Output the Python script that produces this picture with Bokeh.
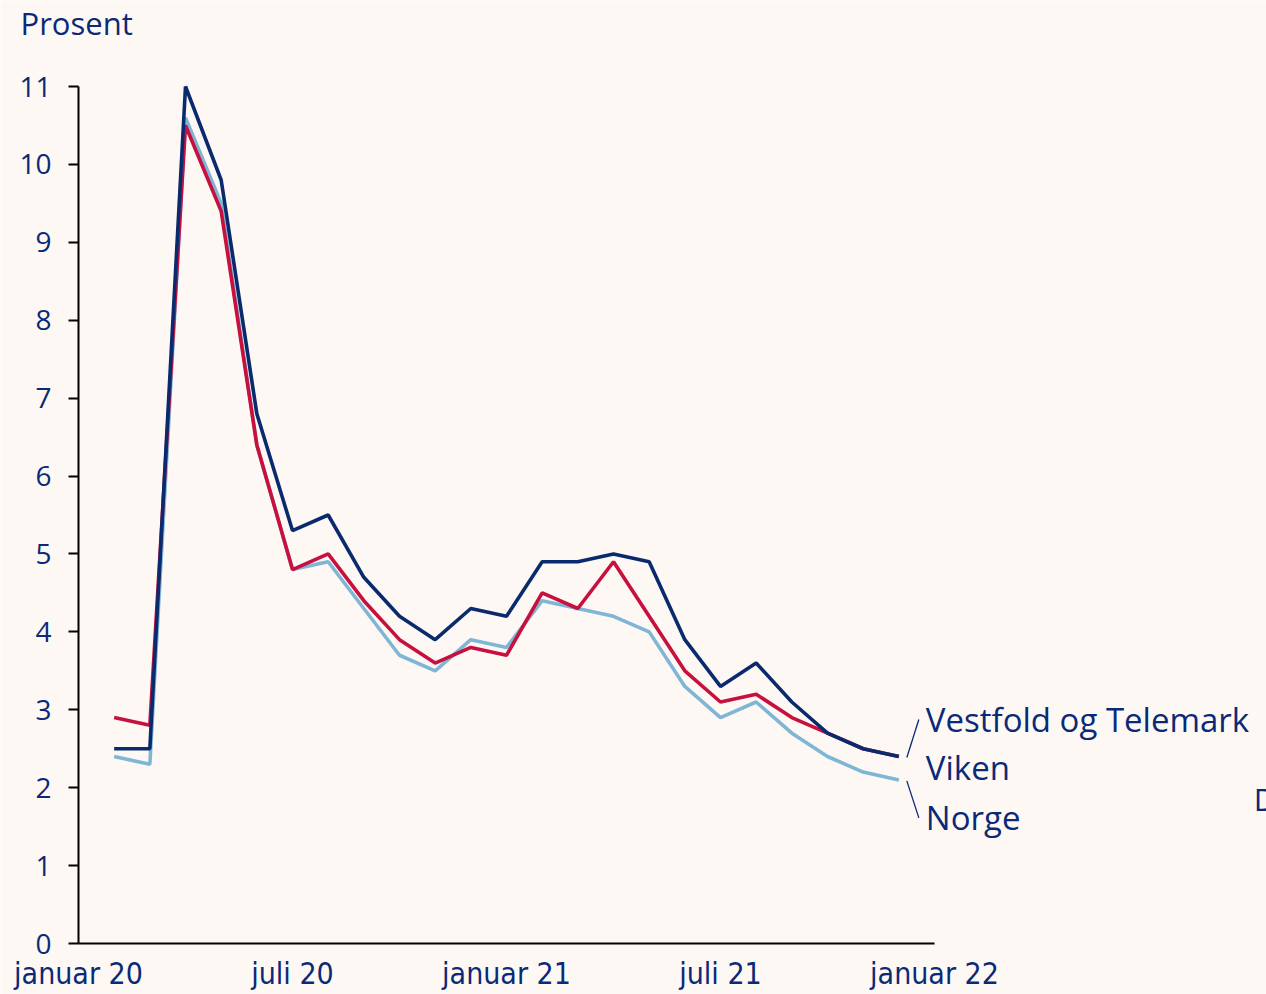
from bokeh.plotting import figure
from bokeh.models import Range1d, FixedTicker, Label
from bokeh.embed import file_html
from bokeh.resources import INLINE

# ---- data (monthly, Feb 2020 - Dec 2021) ----
month_index = list(range(23))  # 0 = februar 2020
vestfold_telemark = [2.5, 2.5, 11.0, 9.8, 6.8, 5.3, 5.5, 4.7, 4.2, 3.9, 4.3, 4.2,
                     4.9, 4.9, 5.0, 4.9, 3.9, 3.3, 3.6, 3.1, 2.7, 2.5, 2.4]
viken = [2.9, 2.8, 10.5, 9.4, 6.4, 4.8, 5.0, 4.4, 3.9, 3.6, 3.8, 3.7,
         4.5, 4.3, 4.9, 4.2, 3.5, 3.1, 3.2, 2.9, 2.7, 2.5, 2.4]
norge = [2.4, 2.3, 10.6, 9.5, 6.4, 4.8, 4.9, 4.3, 3.7, 3.5, 3.9, 3.8,
         4.4, 4.3, 4.2, 4.0, 3.3, 2.9, 3.1, 2.7, 2.4, 2.2, 2.1]
x_tick_pos = [-1, 5, 11, 17, 23]
x_tick_labels = ["januar 20", "juli 20", "januar 21", "juli 21", "januar 22"]
y_ticks = list(range(0, 12))
series_names = ["Vestfold og Telemark", "Viken", "Norge"]

BG = "#fdf8f4"
TEXT = "#0a2a78"
C_VT = "#0a2a6e"
C_VI = "#c8103e"
C_NO = "#7fb6d6"

W, H = 1266, 994
# axis box in figure pixels
AX_L, AX_R, AX_T, AX_B = 78, 934, 86, 943
px_x = (x_tick_pos[-1] - x_tick_pos[0]) / (AX_R - AX_L)
px_y = (y_ticks[-1] - y_ticks[0]) / (AX_B - AX_T)

x0 = x_tick_pos[0] - AX_L * px_x
x1 = x_tick_pos[0] + (W - AX_L) * px_x
y0 = y_ticks[0] - (H - AX_B) * px_y
y1 = y_ticks[-1] + AX_T * px_y

p = figure(width=W, height=H, output_backend="svg", toolbar_location=None,
           x_range=Range1d(x0, x1), y_range=Range1d(y0, y1),
           min_border=0, min_border_left=0, min_border_right=0,
           min_border_top=0, min_border_bottom=0)
p.background_fill_color = BG
p.border_fill_color = BG
p.outline_line_color = None
p.grid.visible = False

p.line(month_index, norge, line_color=C_NO, line_width=3.6)
p.line(month_index, viken, line_color=C_VI, line_width=3.6)
p.line(month_index, vestfold_telemark, line_color=C_VT, line_width=3.6)

# axes, drawn inside the frame at fixed data locations
xa = p.xaxis[0]
xa.fixed_location = y_ticks[0]
xa.bounds = (x_tick_pos[0], x_tick_pos[-1])
xa.ticker = FixedTicker(ticks=x_tick_pos)
xa.major_label_overrides = {t: l for t, l in zip(x_tick_pos, x_tick_labels)}
xa.major_tick_out = 0
xa.major_tick_in = 0
xa.minor_tick_out = 0
xa.minor_tick_in = 0
xa.axis_line_color = "black"
xa.axis_line_width = 2
xa.major_label_text_font = "DejaVu Sans Condensed, Roboto"
xa.major_label_text_font_size = "30px"
xa.major_label_text_color = TEXT
xa.major_label_standoff = 12

ya = p.yaxis[0]
ya.fixed_location = x_tick_pos[0]
ya.bounds = (y_ticks[0], y_ticks[-1])
ya.ticker = FixedTicker(ticks=y_ticks)
ya.major_tick_out = 10
ya.major_tick_in = 0
ya.minor_tick_out = 0
ya.minor_tick_in = 0
ya.major_tick_line_color = "black"
ya.major_tick_line_width = 2
ya.axis_line_color = "black"
ya.axis_line_width = 2
ya.major_label_text_font = "Open Sans"
ya.major_label_text_font_size = "28px"
ya.major_label_text_color = TEXT
ya.major_label_standoff = 17

# unit label
p.add_layout(Label(x=x_tick_pos[0] - 58 * px_x, y=y_ticks[-1] + 64 * px_y, text="Prosent",
                   text_font="Open Sans", text_font_size="31px", text_color=TEXT,
                   text_baseline="alphabetic", text_align="left"))

# series labels with connectors
last_x = month_index[-1]
vt_last = vestfold_telemark[-1]
no_last = norge[-1]
p.segment(x0=[last_x + 8 * px_x], y0=[vt_last - 1 * px_y],
          x1=[last_x + 20 * px_x], y1=[vt_last + 37 * px_y],
          line_color=TEXT, line_width=1.3)
p.segment(x0=[last_x + 8 * px_x], y0=[no_last - 1 * px_y],
          x1=[last_x + 20 * px_x], y1=[no_last - 38 * px_y],
          line_color=TEXT, line_width=1.3)

lab_x = last_x + 27 * px_x
for name, yy in zip(series_names, [vt_last + 37 * px_y, vt_last - 11 * px_y, no_last - 38 * px_y]):
    p.add_layout(Label(x=lab_x, y=yy, text=name, text_font="Open Sans",
                       text_font_size="33px", text_color=TEXT,
                       text_baseline="alphabetic", text_align="left"))

# text cut by the right edge of the picture (as in the source image)
p.add_layout(Label(x=last_x + 355 * px_x, y=no_last - 19 * px_y, text="D",
                   text_font="Open Sans", text_font_size="31px", text_color=TEXT,
                   text_baseline="alphabetic", text_align="left"))

open("out.html", "w").write(file_html(p, INLINE))
